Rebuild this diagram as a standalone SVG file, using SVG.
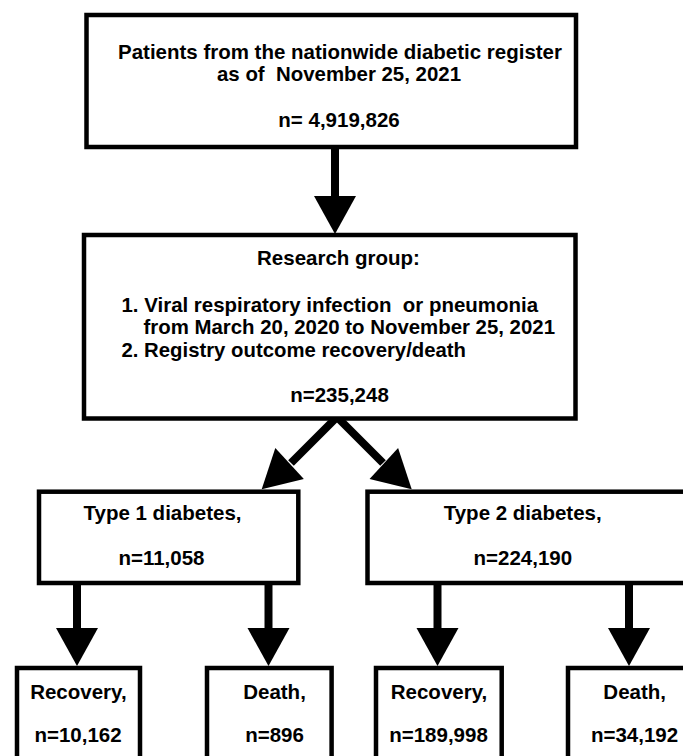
<svg xmlns="http://www.w3.org/2000/svg" xmlns:xlink="http://www.w3.org/1999/xlink" width="683" height="756" viewBox="0 0 683 756">
  <style>
    .box { fill: #ffffff; stroke: #000000; stroke-width: 4.5; }
    .t { font-family: "Liberation Sans", Arial, Helvetica, sans-serif; font-weight: bold; font-size: 20.5px; fill: #000000; }
    .c { text-anchor: middle; }
    .shaft { stroke: #000000; stroke-width: 8; fill: none; }
    .head { fill: #000000; stroke: none; }
  </style>
  <defs>
    <polygon id="ah" class="head" points="-21,-38 21,-38 0,0"/>
  </defs>
  <rect x="0" y="0" width="683" height="756" fill="#ffffff"/>

  <g id="connectors">
    <line class="shaft" x1="335" y1="149" x2="335" y2="198"/>
    <use xlink:href="#ah" transform="translate(335,234)"/>

    <line class="shaft" x1="337" y1="417" x2="291" y2="463"/>
    <use xlink:href="#ah" transform="translate(261.7,489.3) rotate(47.2)"/>
    <line class="shaft" x1="337" y1="417" x2="383" y2="463"/>
    <use xlink:href="#ah" transform="translate(411.7,489.3) rotate(-47.2)"/>

    <line class="shaft" x1="77" y1="585" x2="77" y2="630"/>
    <use xlink:href="#ah" transform="translate(77,666)"/>
    <line class="shaft" x1="268.5" y1="585" x2="268.5" y2="630"/>
    <use xlink:href="#ah" transform="translate(268.5,666)"/>
    <line class="shaft" x1="437.5" y1="585" x2="437.5" y2="630"/>
    <use xlink:href="#ah" transform="translate(437.5,666)"/>
    <line class="shaft" x1="629" y1="585" x2="629" y2="630"/>
    <use xlink:href="#ah" transform="translate(629,666)"/>
  </g>

  <g id="node-patients">
    <rect class="box" x="86.5" y="15" width="489.5" height="132"/>
    <text class="t c" x="340" y="59" textLength="444" lengthAdjust="spacingAndGlyphs">Patients from the nationwide diabetic register</text>
    <text class="t c" x="339" y="81" xml:space="preserve" textLength="244" lengthAdjust="spacingAndGlyphs">as of  November 25, 2021</text>
    <text class="t c" x="339" y="126.5">n= 4,919,826</text>
  </g>

  <g id="node-research">
    <rect class="box" x="84" y="235" width="491.5" height="183.5"/>
    <text class="t c" x="338.5" y="265">Research group:</text>
    <text class="t" x="121.5" y="311.7" xml:space="preserve" textLength="416.5" lengthAdjust="spacingAndGlyphs">1. Viral respiratory infection  or pneumonia</text>
    <text class="t" x="143.5" y="334" textLength="411.5" lengthAdjust="spacingAndGlyphs">from March 20, 2020 to November 25, 2021</text>
    <text class="t" x="121.5" y="356.7" textLength="344.5" lengthAdjust="spacingAndGlyphs">2. Registry outcome recovery/death</text>
    <text class="t c" x="339.5" y="401.7">n=235,248</text>
  </g>

  <g id="node-type1">
    <rect class="box" x="39" y="491.7" width="259.3" height="91.3"/>
    <text class="t c" x="162.5" y="520">Type 1 diabetes,</text>
    <text class="t c" x="161.5" y="565">n=11,058</text>
  </g>

  <g id="node-type2">
    <rect class="box" x="367.5" y="491.7" width="330" height="91.3"/>
    <text class="t c" x="522.7" y="520">Type 2 diabetes,</text>
    <text class="t c" x="522.8" y="565">n=224,190</text>
  </g>

  <g id="node-t1-recovery">
    <rect class="box" x="17" y="668" width="123" height="100"/>
    <text class="t c" x="78.4" y="699">Recovery,</text>
    <text class="t c" x="78" y="742">n=10,162</text>
  </g>

  <g id="node-t1-death">
    <rect class="box" x="207" y="668" width="124.6" height="100"/>
    <text class="t c" x="274.5" y="699">Death,</text>
    <text class="t c" x="274.5" y="742">n=896</text>
  </g>

  <g id="node-t2-recovery">
    <rect class="box" x="376" y="668" width="125.7" height="100"/>
    <text class="t c" x="439" y="699">Recovery,</text>
    <text class="t c" x="438.5" y="742">n=189,998</text>
  </g>

  <g id="node-t2-death">
    <rect class="box" x="568" y="668" width="130" height="100"/>
    <text class="t c" x="634.7" y="699">Death,</text>
    <text class="t c" x="634.5" y="742">n=34,192</text>
  </g>
</svg>
